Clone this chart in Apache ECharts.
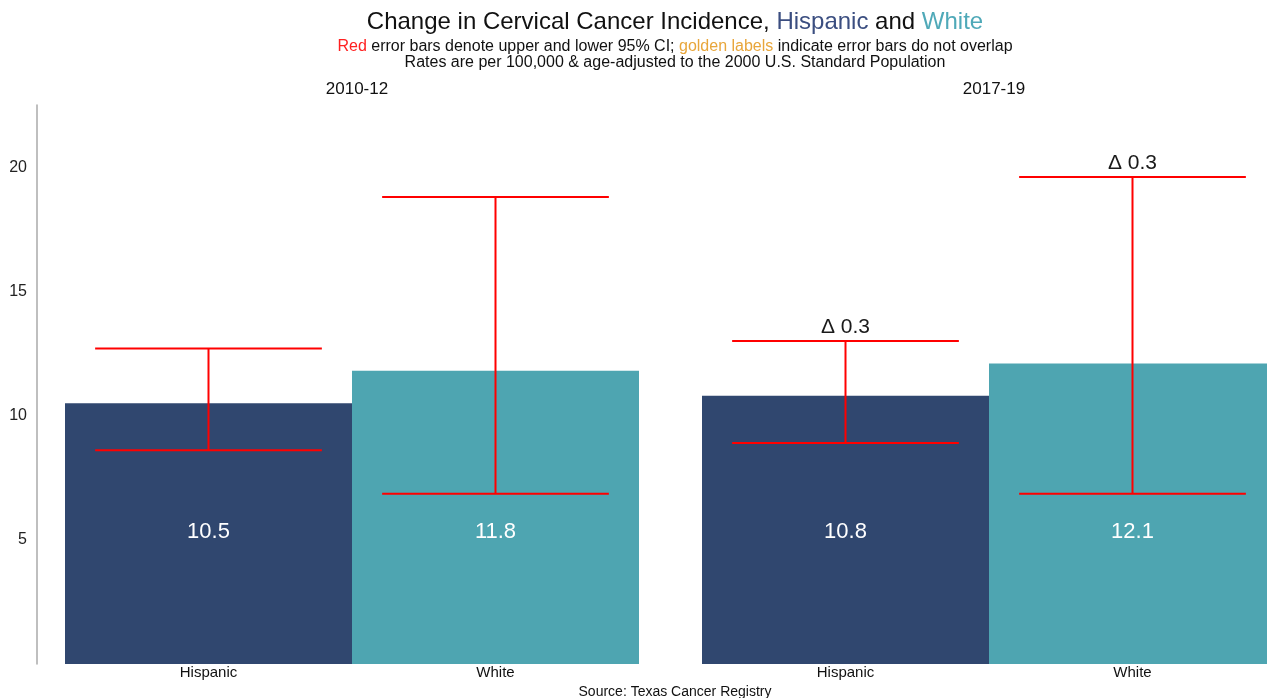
<!DOCTYPE html>
<html>
<head>
<meta charset="utf-8">
<script src="https://cdn.jsdelivr.net/npm/echarts@6/dist/echarts.min.js"></script>
<style>
html,body{margin:0;padding:0;background:#fff;}
#chart{width:1267px;height:698px;}
</style>
</head>
<body>
<div id="chart"></div>
<script>
// ---- data ----
var categories = ['Hispanic', 'White'];
var periods = ['2010-12', '2017-19'];
var rates2010 = [10.5, 11.8];
var rates2017 = [10.8, 12.1];
var lower2010 = [8.6, 6.85];
var upper2010 = [12.7, 18.8];
var lower2017 = [8.9, 6.85];
var upper2017 = [13.0, 19.6];
var deltas2010 = ['', ''];
var deltas2017 = ['Δ 0.3', 'Δ 0.3'];
var yTicks = [5, 10, 15, 20];

var colors = ['#30476f', '#4ea5b1'];
var FONT = "'Liberation Sans', Arial, sans-serif";

var chart = echarts.init(document.getElementById('chart'));

function barData(vals) {
  return vals.map(function (v, i) { return { value: v, itemStyle: { color: colors[i] } }; });
}
function errData(lo, hi, dl) {
  return lo.map(function (l, i) { return [i, l, hi[i], dl[i]]; });
}
function renderErr(params, api) {
  var idx = api.value(0);
  var lo = api.coord([idx, api.value(1)]);
  var hi = api.coord([idx, api.value(2)]);
  var band = api.size([1, 0])[0];
  var hw = band * 0.395;
  var st = { stroke: '#ff0000', lineWidth: 2 };
  var children = [
    { type: 'line', shape: { x1: hi[0], y1: hi[1], x2: lo[0], y2: lo[1] }, style: st },
    { type: 'line', shape: { x1: hi[0] - hw, y1: hi[1], x2: hi[0] + hw, y2: hi[1] }, style: st },
    { type: 'line', shape: { x1: lo[0] - hw, y1: lo[1], x2: lo[0] + hw, y2: lo[1] }, style: st }
  ];
  var d = params.dataIndex;
  var txt = params.seriesIndex === 3 ? deltas2017[d] : deltas2010[d];
  if (txt) {
    children.push({ type: 'text', x: hi[0], y: hi[1] - 3,
      style: { text: txt, fill: '#1a1a1a', font: '21px ' + FONT, textAlign: 'center', textVerticalAlign: 'bottom' } });
  }
  return { type: 'group', children: children };
}

var yMax = 22.5;
function yAxis(gi, show) {
  return {
    type: 'value', gridIndex: gi, min: 0, max: yMax, interval: 5,
    show: show, offset: 28,
    axisLine: { show: true, lineStyle: { color: '#aaaaaa', width: 1.5 } },
    axisTick: { show: false },
    splitLine: { show: false },
    axisLabel: {
      color: '#222', fontSize: 16, fontFamily: FONT, margin: 10,
      showMinLabel: false, showMaxLabel: false,
      formatter: function (v) { return yTicks.indexOf(v) >= 0 ? String(v) : ''; }
    }
  };
}
function xAxis(gi) {
  return {
    type: 'category', gridIndex: gi, data: categories, boundaryGap: true,
    axisLine: { show: false }, axisTick: { show: false },
    axisLabel: { color: '#111', fontSize: 15, fontFamily: FONT, margin: 1 }
  };
}
function plain(size) {
  return { fontSize: size, color: '#111', fontWeight: 'normal', fontFamily: FONT };
}

var option = {
  backgroundColor: '#ffffff',
  animation: false,
  title: [
    {
      text: '{a|Change in Cervical Cancer Incidence, }{h|Hispanic}{a| and }{w|White}',
      left: 670, top: 5, textAlign: 'center',
      textStyle: {
        fontWeight: 'normal', fontFamily: FONT, fontSize: 24,
        rich: {
          a: { fontSize: 24, color: '#111', fontFamily: FONT, fontWeight: 'normal' },
          h: { fontSize: 24, color: '#3b4e80', fontFamily: FONT, fontWeight: 'normal' },
          w: { fontSize: 24, color: '#4fa9b8', fontFamily: FONT, fontWeight: 'normal' }
        }
      }
    },
    {
      text: '{r|Red}{a| error bars denote upper and lower 95% CI; }{g|golden labels}{a| indicate error bars do not overlap}',
      left: 670, top: 34, textAlign: 'center',
      textStyle: {
        fontWeight: 'normal', fontFamily: FONT, fontSize: 16,
        rich: {
          a: { fontSize: 16, color: '#111', fontFamily: FONT, fontWeight: 'normal' },
          r: { fontSize: 16, color: '#ff2020', fontFamily: FONT, fontWeight: 'normal' },
          g: { fontSize: 16, color: '#e8a63b', fontFamily: FONT, fontWeight: 'normal' }
        }
      }
    },
    {
      text: 'Rates are per 100,000 & age-adjusted to the 2000 U.S. Standard Population',
      left: 670, top: 50, textAlign: 'center', textStyle: plain(16)
    },
    { text: periods[0], left: 352, top: 76, textAlign: 'center', textStyle: plain(17) },
    { text: periods[1], left: 989, top: 76, textAlign: 'center', textStyle: plain(17) },
    {
      text: 'Source: Texas Cancer Registry',
      left: 670, top: 680, textAlign: 'center', textStyle: plain(14)
    }
  ],
  grid: [
    { left: 65, top: 105, width: 574, height: 559, outerBoundsMode: 'none', containLabel: false },
    { left: 702, top: 105, width: 574, height: 559, outerBoundsMode: 'none', containLabel: false }
  ],
  xAxis: [xAxis(0), xAxis(1)],
  yAxis: [yAxis(0, true), yAxis(1, false)],
  series: [
    {
      type: 'bar', xAxisIndex: 0, yAxisIndex: 0, data: barData(rates2010),
      barCategoryGap: '0%', barWidth: '100%',
      label: { show: true, position: 'insideBottom', distance: 121, color: '#fff', fontSize: 22, fontFamily: FONT,
        formatter: function (p) { return p.value.toFixed(1); } }
    },
    {
      type: 'bar', xAxisIndex: 1, yAxisIndex: 1, data: barData(rates2017),
      barCategoryGap: '0%', barWidth: '100%',
      label: { show: true, position: 'insideBottom', distance: 121, color: '#fff', fontSize: 22, fontFamily: FONT,
        formatter: function (p) { return p.value.toFixed(1); } }
    },
    {
      type: 'custom', xAxisIndex: 0, yAxisIndex: 0, data: errData(lower2010, upper2010, deltas2010),
      renderItem: renderErr, z: 5, encode: { x: 0, y: [1, 2] }
    },
    {
      type: 'custom', xAxisIndex: 1, yAxisIndex: 1, data: errData(lower2017, upper2017, deltas2017),
      renderItem: renderErr, z: 5, encode: { x: 0, y: [1, 2] }
    }
  ]
};
chart.setOption(option);
</script>
</body>
</html>
